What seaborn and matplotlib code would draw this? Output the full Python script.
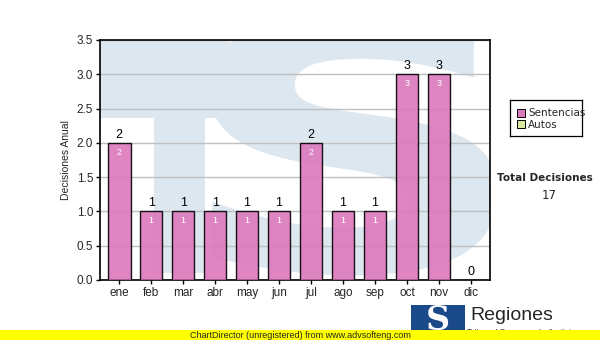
import matplotlib
matplotlib.use("Agg")
import matplotlib.pyplot as plt
import seaborn as sns
import pandas as pd
from matplotlib.patches import Rectangle, PathPatch
from matplotlib.textpath import TextPath
from matplotlib.font_manager import FontProperties
from matplotlib.transforms import Affine2D

months = ["ene", "feb", "mar", "abr", "may", "jun", "jul", "ago", "sep", "oct", "nov", "dic"]
sentencias = [2, 1, 1, 1, 1, 1, 2, 1, 1, 3, 3, 0]
autos = [0, 0, 0, 0, 0, 0, 0, 0, 0, 0, 0, 0]
yticks = [0.0, 0.5, 1.0, 1.5, 2.0, 2.5, 3.0, 3.5]
total_label = "Total Decisiones"
total_value = sum(sentencias) + sum(autos)

sns.set_theme(style="white")
plt.rcParams["font.family"] = ["Liberation Sans", "DejaVu Sans"]

fig = plt.figure(figsize=(6.0, 3.4), dpi=100)
ax = fig.add_axes([100 / 600, 1 - 280 / 340, 390 / 600, 240 / 340])
ax.set_facecolor("white")

wm = "#dce7f0"
# watermark "TS" logo
ax.add_patch(Rectangle((0, 0.675), 0.33, 0.325, transform=ax.transAxes, color=wm, lw=0, zorder=0))
ax.add_patch(Rectangle((0.138, 0.03), 0.132, 0.70, transform=ax.transAxes, color=wm, lw=0, zorder=0))
tp = TextPath((0, 0), "S", size=1, prop=FontProperties(family="DejaVu Sans", weight="bold"))
ext = tp.get_extents()
x0, x1, y0, y1 = 0.28, 1.02, 0.02, 1.12
tr = (Affine2D().translate(-ext.x0, -ext.y0)
      .scale((x1 - x0) / ext.width, (y1 - y0) / ext.height)
      .translate(x0, y0))
spath = tr.transform_path(tp)
ax.add_patch(PathPatch(spath, transform=ax.transAxes, facecolor=wm, edgecolor="none", zorder=0))

df = pd.DataFrame({"mes": months, "Sentencias": sentencias, "Autos": autos})
sns.barplot(data=df, x="mes", y="Sentencias", order=months, color="#dc78bc", alpha=0.9,
            width=0.71, edgecolor="black", linewidth=1.0, saturation=1, ax=ax, zorder=3)

for i, (s, a) in enumerate(zip(sentencias, autos)):
    tot = s + a
    ax.text(i, tot + 0.03, f"{tot}", ha="center", va="bottom", fontsize=9, color="black", zorder=5)
    if s > 0:
        ax.text(i, s - 0.07, f"{s}", ha="center", va="top", fontsize=6.5, color="white", zorder=5)

ax.set_xlim(-0.6, 11.6)
ax.set_ylim(0, 3.5)
ax.set_yticks(yticks)
ax.set_yticklabels([f"{v:.1f}" for v in yticks])
ax.yaxis.grid(True, color="#c0c0c0", lw=1, zorder=1)
ax.set_axisbelow(True)
for sp in ax.spines.values():
    sp.set_visible(True)
    sp.set_color("black")
    sp.set_linewidth(1.2)
ax.tick_params(axis="both", which="both", length=3, width=1, color="black",
               labelsize=8.5, pad=2, direction="out", bottom=True, left=True)
ax.set_xlabel("")
ax.set_ylabel("Decisiones Anual", fontsize=7.5, labelpad=4)

# legend
lax = fig.add_axes([510 / 600, 1 - 136 / 340, 72 / 600, 36 / 340])
lax.set_xlim(0, 72)
lax.set_ylim(36, 0)
lax.set_xticks([])
lax.set_yticks([])
for sp in lax.spines.values():
    sp.set_color("black")
    sp.set_linewidth(0.9)
lax.add_patch(Rectangle((7, 9), 8, 8, facecolor="#dc78bc", edgecolor="black", lw=0.7))
lax.add_patch(Rectangle((7, 20), 8, 8, facecolor="#d8e8a0", edgecolor="black", lw=0.7))
lax.text(18, 13, "Sentencias", fontsize=7.5, va="center", ha="left", fontfamily="DejaVu Sans")
lax.text(18, 24.5, "Autos", fontsize=7.5, va="center", ha="left", fontfamily="DejaVu Sans")

fig.text(545 / 600, 1 - 178 / 340, total_label, fontsize=7.5, fontweight="bold",
         ha="center", va="center", fontfamily="DejaVu Sans")
fig.text(549 / 600, 1 - 196 / 340, f"{total_value}", fontsize=8.5, ha="center", va="center",
         fontfamily="DejaVu Sans")

# bottom logo
fig.patches.append(Rectangle((411 / 600, 0), 54 / 600, 35 / 340, transform=fig.transFigure,
                             color="#1a4a8a", lw=0, zorder=1))
fig.text(438 / 600, 1 - 320 / 340, "S", fontsize=24, fontweight="bold", color="white",
         fontfamily="DejaVu Serif", ha="center", va="center", zorder=2)
fig.text(470 / 600, 1 - 316 / 340, "Regiones", fontsize=14, ha="left", va="center", zorder=2)
fig.text(467 / 600, 1 - 333 / 340, "Tribunal Supremo de Justicia", fontsize=6, ha="left",
         va="center", zorder=2)
fig.patches.append(Rectangle((0, 0), 1, 10 / 340, transform=fig.transFigure,
                             color="#ffff00", lw=0, zorder=3))
fig.text(300 / 600, 5 / 340, "ChartDirector (unregistered) from www.advsofteng.com",
         fontsize=6.5, ha="center", va="center", zorder=4)

fig.savefig("out.png", dpi=100)
